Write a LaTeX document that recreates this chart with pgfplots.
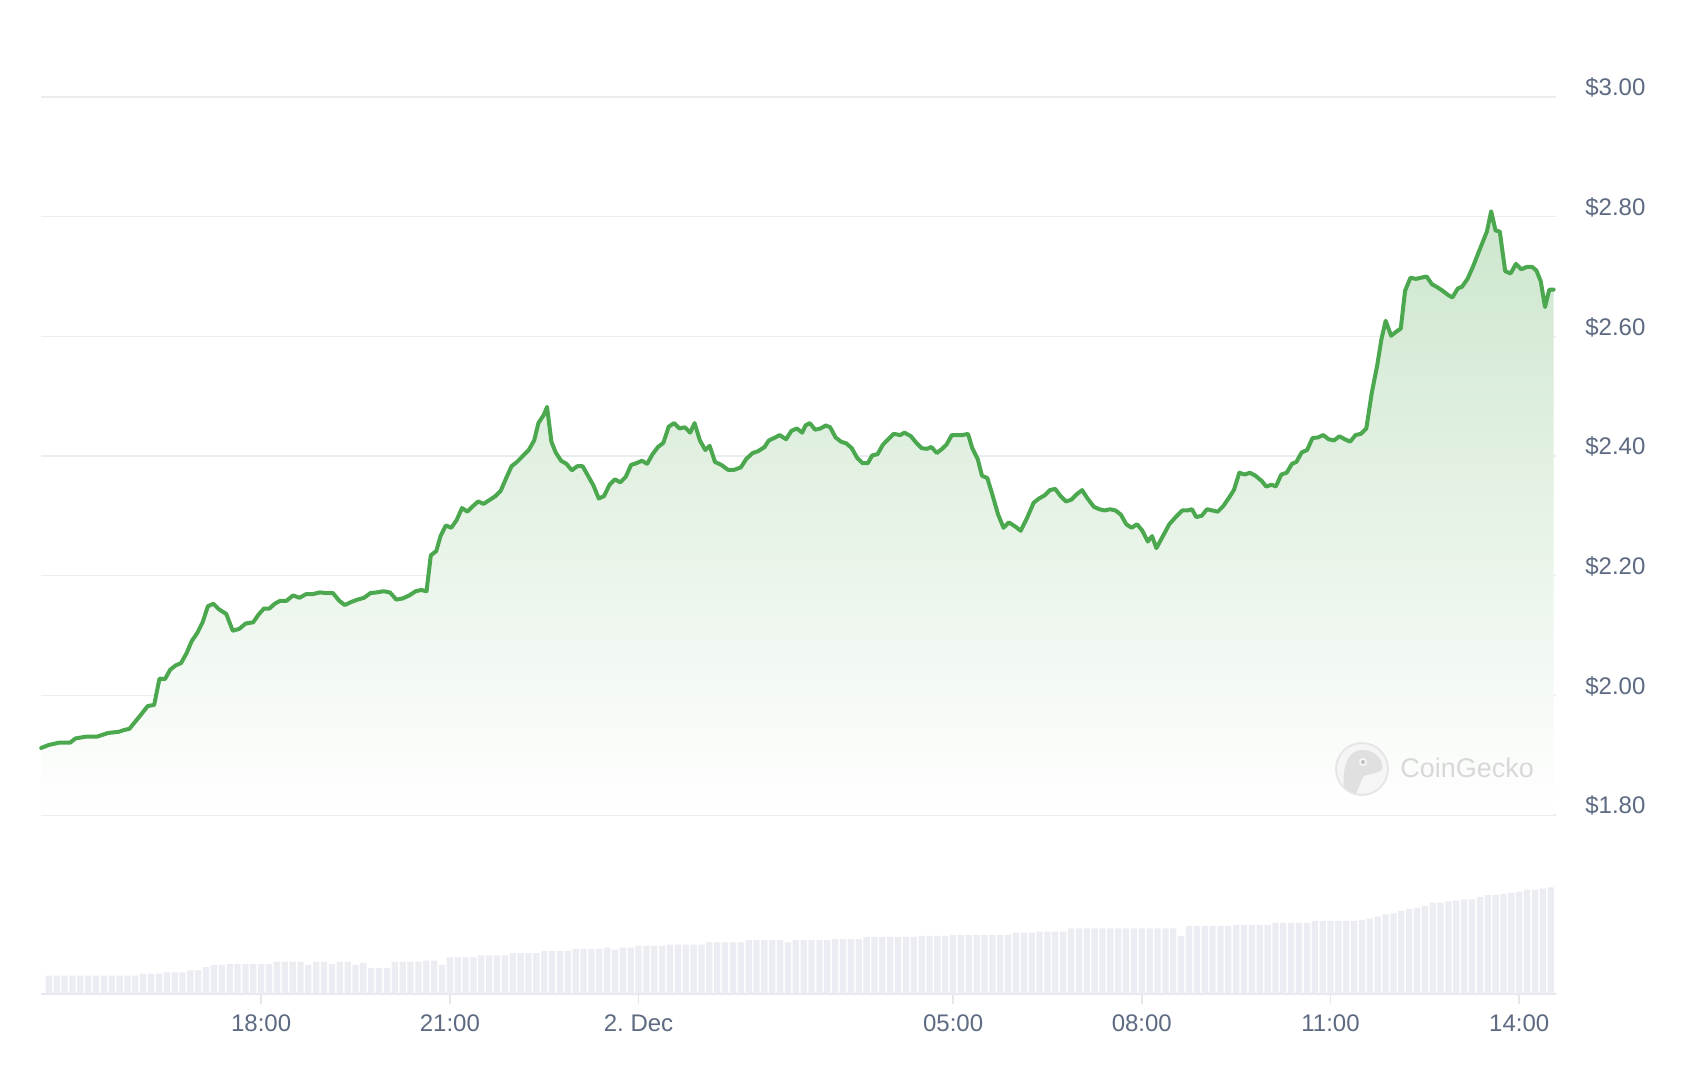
\documentclass[border=0pt]{standalone}
\usepackage{fontspec}
\setmainfont{Liberation Sans}
\usepackage{pgfplots}
\usepackage{pgfplotstable}
\pgfplotsset{compat=1.18}
\definecolor{linec}{HTML}{4BA84E}
\definecolor{labc}{HTML}{5D6A82}
\definecolor{gridc}{HTML}{EBECF0}
\definecolor{volc}{HTML}{ECEDF2}
\definecolor{basec}{HTML}{E6E7EC}
\definecolor{filltop}{RGB}{205,230,205}
\definecolor{wmc}{HTML}{D8D8D8}

\pgfplotstableread{
h price
-9.498 1.912
-9.378 1.917
-9.207 1.921
-9.036 1.921
-8.951 1.928
-8.780 1.931
-8.608 1.931
-8.437 1.937
-8.266 1.939
-8.180 1.942
-8.095 1.944
-7.924 1.966
-7.804 1.982
-7.701 1.984
-7.616 2.028
-7.530 2.027
-7.445 2.043
-7.359 2.050
-7.273 2.054
-7.188 2.070
-7.102 2.091
-7.017 2.104
-6.931 2.122
-6.846 2.149
-6.760 2.153
-6.674 2.144
-6.555 2.136
-6.452 2.108
-6.349 2.111
-6.247 2.120
-6.127 2.122
-6.041 2.135
-5.956 2.145
-5.870 2.145
-5.785 2.153
-5.699 2.158
-5.596 2.158
-5.494 2.167
-5.391 2.163
-5.288 2.169
-5.186 2.169
-5.066 2.172
-4.963 2.171
-4.860 2.171
-4.758 2.158
-4.672 2.151
-4.569 2.156
-4.467 2.160
-4.364 2.163
-4.261 2.171
-4.159 2.172
-4.056 2.174
-3.953 2.172
-3.851 2.160
-3.748 2.162
-3.645 2.167
-3.543 2.174
-3.457 2.176
-3.371 2.174
-3.303 2.234
-3.217 2.241
-3.149 2.266
-3.063 2.284
-2.978 2.280
-2.892 2.293
-2.807 2.313
-2.721 2.307
-2.636 2.316
-2.550 2.324
-2.464 2.320
-2.362 2.327
-2.276 2.333
-2.191 2.342
-2.105 2.363
-2.019 2.383
-1.934 2.390
-1.831 2.401
-1.746 2.410
-1.660 2.426
-1.592 2.455
-1.506 2.469
-1.455 2.482
-1.386 2.424
-1.318 2.406
-1.232 2.392
-1.147 2.387
-1.061 2.376
-0.975 2.383
-0.890 2.383
-0.804 2.367
-0.719 2.351
-0.633 2.329
-0.548 2.333
-0.462 2.352
-0.377 2.361
-0.291 2.356
-0.205 2.365
-0.120 2.385
-0.034 2.388
0.051 2.392
0.137 2.387
0.222 2.403
0.308 2.415
0.394 2.422
0.479 2.449
0.565 2.455
0.650 2.446
0.736 2.448
0.821 2.439
0.890 2.455
0.975 2.426
1.061 2.410
1.130 2.417
1.215 2.390
1.318 2.385
1.420 2.377
1.523 2.377
1.626 2.381
1.711 2.395
1.814 2.405
1.900 2.408
2.002 2.415
2.071 2.426
2.173 2.431
2.242 2.435
2.345 2.428
2.430 2.442
2.516 2.446
2.601 2.439
2.653 2.451
2.721 2.455
2.807 2.444
2.892 2.446
2.978 2.451
3.046 2.448
3.132 2.431
3.217 2.424
3.303 2.421
3.389 2.413
3.474 2.397
3.560 2.388
3.645 2.388
3.714 2.401
3.799 2.403
3.885 2.419
3.970 2.428
4.056 2.437
4.159 2.435
4.227 2.439
4.330 2.433
4.415 2.422
4.501 2.413
4.587 2.412
4.655 2.415
4.741 2.405
4.826 2.412
4.895 2.419
4.980 2.435
5.066 2.435
5.151 2.435
5.237 2.437
5.305 2.413
5.391 2.395
5.459 2.367
5.545 2.363
5.631 2.333
5.716 2.302
5.802 2.280
5.887 2.289
5.990 2.282
6.075 2.275
6.178 2.297
6.281 2.322
6.366 2.329
6.452 2.334
6.538 2.343
6.623 2.345
6.709 2.333
6.794 2.324
6.880 2.327
6.965 2.336
7.051 2.343
7.137 2.329
7.239 2.315
7.325 2.311
7.410 2.309
7.496 2.311
7.582 2.309
7.667 2.302
7.753 2.286
7.838 2.280
7.924 2.286
8.009 2.275
8.095 2.257
8.163 2.266
8.232 2.246
8.335 2.266
8.437 2.286
8.540 2.298
8.643 2.309
8.728 2.309
8.797 2.311
8.865 2.298
8.951 2.300
9.036 2.311
9.122 2.309
9.207 2.307
9.293 2.316
9.378 2.329
9.464 2.343
9.550 2.372
9.635 2.369
9.721 2.372
9.806 2.367
9.909 2.358
9.977 2.349
10.063 2.352
10.131 2.349
10.217 2.369
10.303 2.372
10.388 2.387
10.457 2.390
10.542 2.406
10.628 2.410
10.713 2.430
10.799 2.431
10.885 2.435
10.970 2.428
11.056 2.426
11.141 2.433
11.227 2.428
11.312 2.424
11.398 2.435
11.483 2.437
11.569 2.446
11.655 2.505
11.740 2.550
11.809 2.595
11.877 2.626
11.963 2.601
12.048 2.608
12.117 2.613
12.185 2.676
12.271 2.698
12.356 2.696
12.442 2.698
12.527 2.700
12.613 2.687
12.699 2.682
12.784 2.676
12.870 2.669
12.938 2.665
13.024 2.680
13.092 2.683
13.178 2.696
13.263 2.716
13.349 2.739
13.417 2.757
13.486 2.775
13.554 2.809
13.623 2.777
13.691 2.775
13.777 2.709
13.862 2.705
13.948 2.721
14.033 2.712
14.119 2.716
14.205 2.716
14.273 2.710
14.342 2.692
14.410 2.649
14.478 2.678
14.547 2.678
}\pricetable

\begin{document}
\begin{tikzpicture}
\useasboundingbox (0,0) rectangle (844pt,541pt);
\fill[white] (0,0) rectangle (844pt,541pt);

% price axis
\begin{axis}[
  at={(20.5pt,133.5pt)}, anchor=south west,
  scale only axis, width=757.35pt, height=359pt,
  xmin=-9.5, xmax=14.58, ymin=1.8, ymax=3.0,
  axis line style={draw=none},
  xtick=\empty,
  ytick={1.8,2.0,2.2,2.4,2.6,2.8,3.0},
  yticklabels={\$1.80,\$2.00,\$2.20,\$2.40,\$2.60,\$2.80,\$3.00},
  yticklabel pos=right,
  major tick length=0pt,
  ytick style={draw=none},
  yticklabel style={anchor=west, inner sep=0pt, xshift=14.6pt, yshift=4.6pt,
    text=labc, font=\fontsize{12}{14}\selectfont},
  ymajorgrids,
  grid style={draw=gridc, line width=0.8pt},
  clip=false,
]
\addplot[draw=none, top color=filltop, bottom color=white]
  table[x=h, y=price] {\pricetable} -- (axis cs:14.547,1.8) -- (axis cs:-9.498,1.8) -- cycle;
\addplot[draw=linec, line width=2pt, line join=round, line cap=round, mark=none]
  table[x=h, y=price] {\pricetable};
\end{axis}

% watermark
\begin{scope}
\fill[white!96!black] (681pt,156.5pt) circle (13pt);
\draw[white!90!black, line width=0.9pt] (681pt,156.5pt) circle (13pt);
\fill[white!88!black] (672pt,147pt) .. controls (671pt,158pt) and (674pt,166pt) .. (681pt,166pt)
  .. controls (688pt,166pt) and (692pt,161pt) .. (691pt,156pt)
  .. controls (688pt,154pt) and (684pt,154pt) .. (682pt,153pt)
  .. controls (680pt,150pt) and (679pt,146pt) .. (678pt,144pt) -- cycle;
\fill[white!97!black] (681.5pt,160pt) circle (2pt);
\fill[white!75!black] (681.5pt,160pt) circle (1pt);
\node[text=wmc, font=\fontsize{13.5}{15}\selectfont, anchor=west, inner sep=0pt] at (700pt,157pt) {CoinGecko};
\end{scope}

% volume axis
\begin{axis}[
  at={(20.5pt,44pt)}, anchor=south west,
  scale only axis, width=757.35pt, height=53.8pt,
  xmin=-9.5, xmax=14.58, ymin=0, ymax=100,
  axis x line=bottom, axis y line=none,
  axis line style={draw=basec, line width=0.8pt, -},
  xtick={-6,-3,0,5,8,11,14},
  xticklabels={18:00,21:00,2.\ Dec,05:00,08:00,11:00,14:00},
  tick align=outside,
  major tick length=5pt,
  xtick style={draw=basec, line width=0.8pt},
  xticklabel style={anchor=base, inner sep=0pt, yshift=-13.7pt, text=labc, font=\fontsize{12}{14}\selectfont},
  xticklabel shift=0pt,
  clip=false,
]
\addplot[ybar, bar width=0.1, fill=volc, draw=none] coordinates {
(-9.375,17) (-9.25,17) (-9.125,17) (-9,17) (-8.875,17) (-8.75,17) (-8.625,17) (-8.5,17)
(-8.375,17) (-8.25,17) (-8.125,17) (-8,17) (-7.875,19) (-7.75,19) (-7.625,19) (-7.5,20)
(-7.375,20) (-7.25,20) (-7.125,22) (-7,22) (-6.875,25) (-6.75,27) (-6.625,27) (-6.5,28)
(-6.375,28) (-6.25,28) (-6.125,28) (-6,28) (-5.875,28) (-5.75,30) (-5.625,30) (-5.5,30)
(-5.375,30) (-5.25,27) (-5.125,30) (-5,30) (-4.875,28) (-4.75,30) (-4.625,30) (-4.5,27)
(-4.375,29) (-4.25,24) (-4.125,24) (-4,24) (-3.875,30) (-3.75,30) (-3.625,30) (-3.5,30)
(-3.375,31) (-3.25,31) (-3.125,27) (-3,34) (-2.875,34) (-2.75,34) (-2.625,34) (-2.5,36)
(-2.375,36) (-2.25,36) (-2.125,36) (-2,38) (-1.875,38) (-1.75,38) (-1.625,38) (-1.5,40)
(-1.375,40) (-1.25,40) (-1.125,40) (-1,42) (-0.875,42) (-0.75,42) (-0.625,42) (-0.5,43)
(-0.375,41) (-0.25,43) (-0.125,43) (0,45) (0.125,45) (0.25,45) (0.375,45) (0.5,46)
(0.625,46) (0.75,46) (0.875,46) (1,46) (1.125,48) (1.25,48) (1.375,48) (1.5,48)
(1.625,48) (1.75,50) (1.875,50) (2,50) (2.125,50) (2.25,50) (2.375,48) (2.5,50)
(2.625,50) (2.75,50) (2.875,50) (3,50) (3.125,51) (3.25,51) (3.375,51) (3.5,51)
(3.625,53) (3.75,53) (3.875,53) (4,53) (4.125,53) (4.25,53) (4.375,53) (4.5,54)
(4.625,54) (4.75,54) (4.875,54) (5,55) (5.125,55) (5.25,55) (5.375,55) (5.5,55)
(5.625,55) (5.75,55) (5.875,55) (6,57) (6.125,57) (6.25,57) (6.375,58) (6.5,58)
(6.625,58) (6.75,58) (6.875,61) (7,61) (7.125,61) (7.25,61) (7.375,61) (7.5,61)
(7.625,61) (7.75,61) (7.875,61) (8,61) (8.125,61) (8.25,61) (8.375,61) (8.5,61)
(8.625,54) (8.75,63) (8.875,63) (9,63) (9.125,63) (9.25,63) (9.375,63) (9.5,64)
(9.625,64) (9.75,64) (9.875,64) (10,64) (10.125,66) (10.25,66) (10.375,66) (10.5,66)
(10.625,66) (10.75,68) (10.875,68) (11,68) (11.125,68) (11.25,68) (11.375,68) (11.5,69)
(11.625,70) (11.75,72) (11.875,74) (12,75) (12.125,77) (12.25,79) (12.375,80) (12.5,82)
(12.625,85) (12.75,85) (12.875,86) (13,87) (13.125,88) (13.25,88) (13.375,90) (13.5,92)
(13.625,92) (13.75,93) (13.875,94) (14,95) (14.125,97) (14.25,97) (14.375,98) (14.5,99)
};
\end{axis}
\end{tikzpicture}
\end{document}
